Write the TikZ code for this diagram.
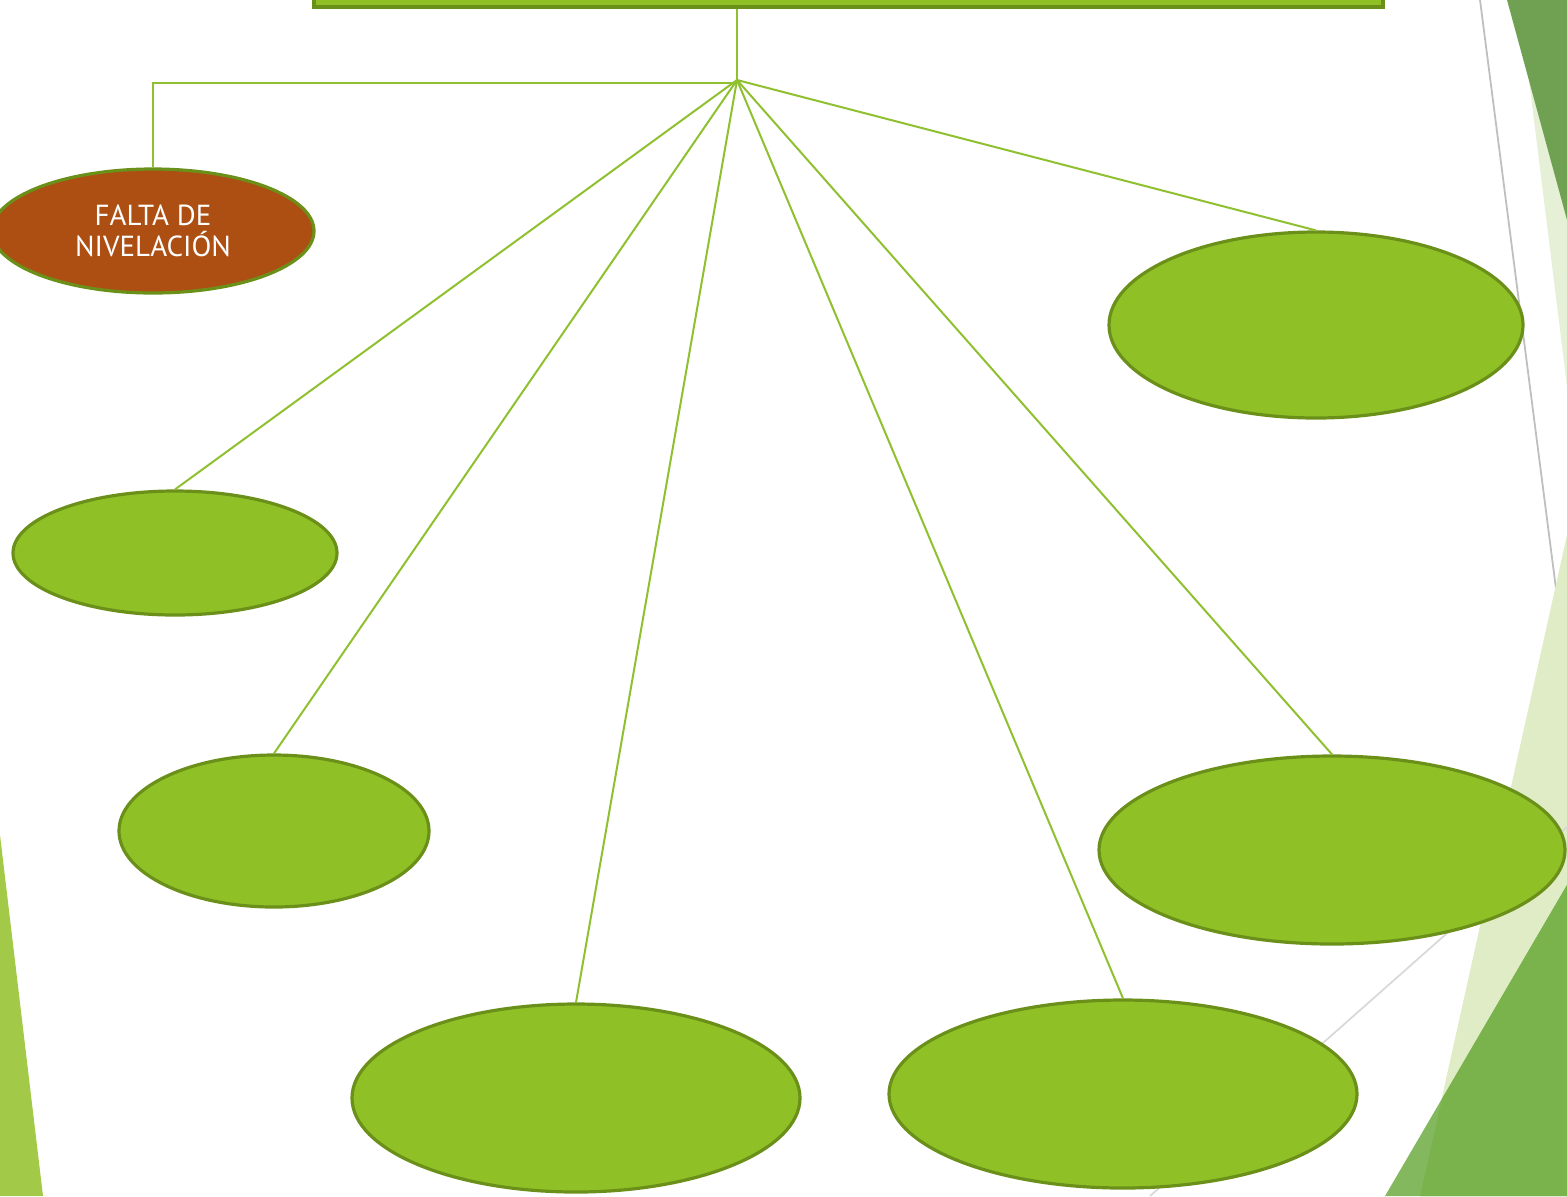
\documentclass[tikz,border=0pt]{standalone}
\usepackage{fontspec}
\setmainfont{PT Sans}
\usetikzlibrary{shapes.geometric}
\definecolor{leaf}{HTML}{8FC127}
\definecolor{leafline}{HTML}{6B901A}
\definecolor{rust}{HTML}{AD4F13}
\definecolor{conncol}{HTML}{8FC030}
\definecolor{darkleaf}{HTML}{70A052}
\definecolor{paleleaf}{HTML}{E6F0D6}
\definecolor{paleleafb}{HTML}{DFECC6}
\definecolor{midleaf}{HTML}{7AB34C}
\definecolor{midleafl}{HTML}{84B85F}
\definecolor{leftleaf}{HTML}{A2CA48}
\tikzset{
  oval/.style={ellipse, draw=leafline, line width=1.6pt, fill=leaf, inner sep=0pt},
  ovalrust/.style={oval, fill=rust, text=white, align=center, font=\fontsize{14.5}{15.5}\selectfont},
  topbox/.style={rectangle, draw=leafline, line width=1.8pt, fill=leaf, inner sep=0pt},
  conn/.style={draw=conncol, line width=1pt},
}
\begin{document}
\begin{tikzpicture}[x=0.5pt,y=-0.5pt]
\useasboundingbox (0,0) rectangle (1567,1196);
\clip (0,0) rectangle (1567,1196);
% background decorations
\fill[paleleaf] (1519,0) -- (1567,0) -- (1567,386) -- cycle;
\fill[darkleaf] (1507,0) -- (1567,0) -- (1567,220) -- cycle;
\draw[color=black!25, line width=0.9pt] (1480,0) -- (1567,674);
\fill[paleleafb] (1567,535) -- (1567,1196) -- (1420,1196) -- cycle;
\fill[midleafl] (1567,885) -- (1567,1196) -- (1385,1196) -- cycle;
\fill[midleaf] (1442,1099) -- (1567,885) -- (1567,1196) -- (1420,1196) -- cycle;
\fill[leftleaf] (0,835) -- (0,1196) -- (43,1196) -- cycle;
\draw[color=black!15, line width=0.9pt] (1567,827) -- (1150,1196);
% nodes
\node[topbox, minimum width=534.5pt, minimum height=25pt] (top) at (848.5,-18) {};
\coordinate (j) at (737,80);
\node[ovalrust, minimum width=161pt, minimum height=62pt] (falta) at (153,231) {FALTA DE\\NIVELACIÓN};
\node[oval, minimum width=162pt, minimum height=62pt] (e1) at (175,553) {};
\node[oval, minimum width=155pt, minimum height=76pt] (e2) at (274,831) {};
\node[oval, minimum width=224pt, minimum height=94pt] (e3) at (576,1098) {};
\node[oval, minimum width=234pt, minimum height=94pt] (e4) at (1123,1094) {};
\node[oval, minimum width=233pt, minimum height=94pt] (e5) at (1332,850) {};
\node[oval, minimum width=207pt, minimum height=93pt] (e6) at (1316,325) {};
% connectors
\draw[conn] (top.south -| j) -- (j);
\draw[conn] (j) |- ([yshift=-1.5pt]j -| falta.north) -- (falta.north);
\draw[conn] (j) -- (e1.north);
\draw[conn] (j) -- (e2.north);
\draw[conn] (j) -- (e3.north);
\draw[conn] (j) -- (e4.north);
\draw[conn] (j) -- (e5.north);
\draw[conn] (j) -- (e6.north);
\end{tikzpicture}
\end{document}
